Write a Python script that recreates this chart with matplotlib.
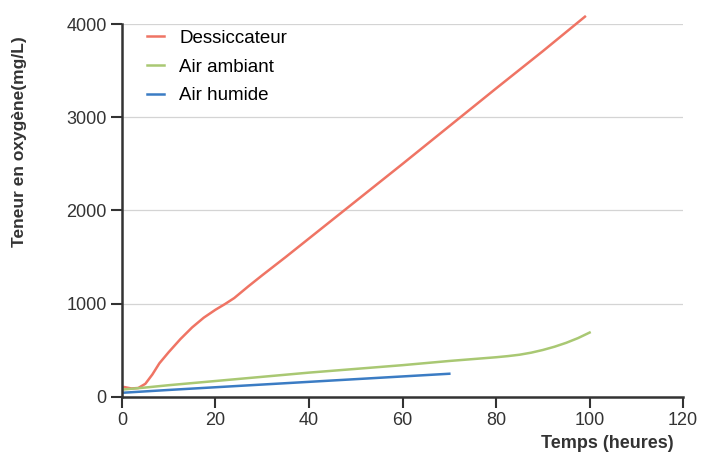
import matplotlib.pyplot as plt

plt.rcParams['font.family'] = ['Liberation Sans', 'DejaVu Sans']

# Temps (heures) / teneur en oxygene (mg/L)
temps_dessic = [0.5, 2, 3.5, 5, 6.5, 8, 10, 12.5, 15, 17.5, 20, 22, 24, 27, 30,
                35, 40, 50, 60, 70, 80, 90, 99]
o2_dessic = [105, 90, 95, 140, 240, 360, 480, 620, 745, 850, 935, 995, 1060,
             1185, 1305, 1500, 1700, 2100, 2500, 2905, 3310, 3710, 4080]

temps_ambiant = [0.5, 5, 10, 20, 30, 40, 50, 60, 70, 80, 82.5, 85, 87.5, 90,
                 92.5, 95, 97.5, 100]
o2_ambiant = [80, 100, 125, 170, 215, 260, 300, 340, 385, 425, 437, 452, 474,
              503, 538, 580, 630, 690]

temps_humide = [0.5, 10, 20, 30, 40, 50, 60, 70]
o2_humide = [45, 74, 103, 132, 161, 190, 219, 248]

x_ticks = [0, 20, 40, 60, 80, 100, 120]
y_ticks = [0, 1000, 2000, 3000, 4000]

fig = plt.figure(figsize=(7.05, 4.73), dpi=100)
ax = fig.add_axes([0.173, 0.161, 0.796, 0.788])

ax.plot(temps_dessic, o2_dessic, color='#ef7464', lw=1.8, label='Dessiccateur', clip_on=False)
ax.plot(temps_ambiant, o2_ambiant, color='#a9c873', lw=1.8, label='Air ambiant', clip_on=False)
ax.plot(temps_humide, o2_humide, color='#3b7cc4', lw=1.8, label='Air humide', clip_on=False)

ax.set_xlim(0, 120)
ax.set_ylim(0, 4000)
ax.set_xticks(x_ticks)
ax.set_yticks(y_ticks)
ax.tick_params(labelsize=13, colors='#333333', length=8, width=1.5, pad=3)
for s in ['top', 'right']:
    ax.spines[s].set_visible(False)
for s in ['left', 'bottom']:
    ax.spines[s].set_color('#333333')
    ax.spines[s].set_linewidth(1.8)

for v in y_ticks[1:]:
    ax.axhline(v, color='#d4d4d4', lw=0.9, zorder=0)

leg = ax.legend(loc='upper left', bbox_to_anchor=(0.015, 1.03), frameon=False,
                fontsize=13.5, handlelength=0.9, handletextpad=0.8, labelspacing=0.62)

fig.text(0.028, 1 - 142 / 473, 'Teneur en oxygène(mg/L)', rotation=90, ha='center',
         va='center', fontsize=12.5, fontweight='bold', color='#333333')
fig.text(607 / 705, 1 - 443 / 473, 'Temps (heures)', ha='center', va='center',
         fontsize=13, fontweight='bold', color='#333333')

fig.savefig('out.png', dpi=100)
